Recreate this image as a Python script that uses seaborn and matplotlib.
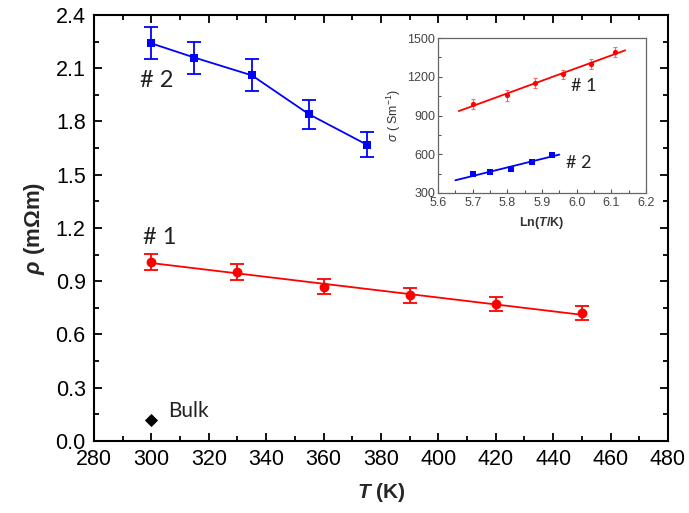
import numpy as np
import pandas as pd
import matplotlib
matplotlib.use("Agg")
import matplotlib.pyplot as plt
import seaborn as sns
from matplotlib.ticker import MultipleLocator

# ---- data ----
T2 = [300, 315, 335, 355, 375]
rho2 = [2.24, 2.16, 2.06, 1.84, 1.67]
err2 = [0.09, 0.09, 0.09, 0.08, 0.07]

T1 = [300, 330, 360, 390, 420, 450]
rho1 = [1.01, 0.95, 0.87, 0.82, 0.77, 0.72]
err1 = [0.045, 0.045, 0.04, 0.04, 0.04, 0.04]

T_bulk = [300]
rho_bulk = [0.12]

# inset: conductivity vs ln(T)
lnT1 = [5.70, 5.80, 5.88, 5.96, 6.04, 6.11]
sig1 = [990, 1055, 1150, 1220, 1300, 1390]
sigerr1 = [40, 40, 40, 35, 40, 40]
lnT2 = [5.70, 5.75, 5.81, 5.87, 5.93]
sig2 = [445, 462, 485, 540, 597]
sigerr2 = [12, 12, 12, 12, 12]
fit1_range = [5.66, 6.14]
fit2_range = [5.65, 5.95]

sns.set_theme(style="ticks")
plt.rcParams['font.family'] = ['Liberation Sans', 'DejaVu Sans']
plt.rcParams['mathtext.fontset'] = 'custom'
plt.rcParams['mathtext.rm'] = 'Liberation Sans'
plt.rcParams['mathtext.it'] = 'Liberation Sans:italic'
plt.rcParams['mathtext.bf'] = 'Liberation Sans:bold'
plt.rcParams['mathtext.bfit'] = 'Liberation Sans:bold:italic'

fig = plt.figure(figsize=(6.89, 5.13), dpi=100)
ax = fig.add_axes([0.1364, 0.1404, 0.833, 0.8304])

blue = '#0000ff'
red = '#ff0000'

# sample #2
ax.errorbar(T2, rho2, yerr=err2, fmt='none', ecolor=blue, elinewidth=1.3,
            capsize=5, capthick=1.3, zorder=2)
sns.lineplot(x=T2, y=rho2, ax=ax, color=blue, lw=1.3, zorder=3)
sns.scatterplot(x=T2, y=rho2, ax=ax, color=blue, marker='s', s=40,
                edgecolor=blue, linewidth=0, zorder=4)

# sample #1 with linear fit
ax.errorbar(T1, rho1, yerr=err1, fmt='none', ecolor=red, elinewidth=1.3,
            capsize=5, capthick=1.3, zorder=2)
c1 = np.polyfit(T1, rho1, 1)
fx = np.array([T1[0], T1[-1]])
sns.lineplot(x=fx, y=np.polyval(c1, fx), ax=ax, color=red, lw=1.3, zorder=3)
sns.scatterplot(x=T1, y=rho1, ax=ax, color=red, marker='o', s=50,
                edgecolor=red, linewidth=0, zorder=4)

# bulk
sns.scatterplot(x=T_bulk, y=rho_bulk, ax=ax, color='black', marker='D', s=45,
                edgecolor='black', linewidth=0, zorder=4)
ax.text(306, 0.17, 'Bulk', fontsize=15, family=['Lato', 'DejaVu Sans'],
        color='#222222', va='center', ha='left')
ax.text(296, 2.03, '# 2', fontsize=17, family=['Lato', 'DejaVu Sans'],
        color='#222222', va='center', ha='left')
ax.text(297, 1.145, '# 1', fontsize=17, family=['Lato', 'DejaVu Sans'],
        color='#222222', va='center', ha='left')

ax.set_xlim(280, 480)
ax.set_ylim(0, 2.4)
ax.xaxis.set_major_locator(MultipleLocator(20))
ax.xaxis.set_minor_locator(MultipleLocator(10))
ax.yaxis.set_major_locator(MultipleLocator(0.3))
ax.yaxis.set_minor_locator(MultipleLocator(0.15))
ax.yaxis.set_major_formatter(matplotlib.ticker.FormatStrFormatter('%.1f'))
ax.tick_params(which='both', direction='in', top=True, right=True,
               labelsize=15.5, colors='black', width=1.3)
ax.tick_params(which='major', length=6, pad=6)
ax.tick_params(which='minor', length=3.5)
for s in ax.spines.values():
    s.set_linewidth(1.5)
    s.set_color('black')
ax.set_xlabel(r'$\mathbfit{T}$ (K)', fontsize=15, fontweight='bold', labelpad=8)
ax.set_ylabel(r'$\mathbfit{\rho}$ (m$\mathbf{\Omega}$m)', fontsize=16,
              fontweight='bold', labelpad=6)

# ---- inset ----
ins = fig.add_axes([0.6357, 0.6238, 0.3019, 0.3021])
ins.errorbar(lnT1, sig1, yerr=sigerr1, fmt='none', ecolor='#ff6666',
             elinewidth=0.8, capsize=1.5, capthick=0.8, zorder=2)
ins.errorbar(lnT2, sig2, yerr=sigerr2, fmt='none', ecolor='#6666ff',
             elinewidth=0.8, capsize=1.5, capthick=0.8, zorder=2)
p1 = np.polyfit(lnT1, sig1, 1)
p2 = np.polyfit(lnT2, sig2, 1)
x1 = np.array(fit1_range)
x2 = np.array(fit2_range)
sns.lineplot(x=x1, y=np.polyval(p1, x1), ax=ins, color=red, lw=1.3, zorder=3)
sns.lineplot(x=x2, y=np.polyval(p2, x2), ax=ins, color=blue, lw=1.3, zorder=3)
sns.scatterplot(x=lnT1, y=sig1, ax=ins, color=red, marker='o', s=14,
                linewidth=0, zorder=4)
sns.scatterplot(x=lnT2, y=sig2, ax=ins, color=blue, marker='s', s=14,
                linewidth=0, zorder=4)
ins.text(5.985, 1130, '# 1', fontsize=13, family=['Lato', 'DejaVu Sans'],
         color='#222222', va='center')
ins.text(5.97, 530, '# 2', fontsize=13, family=['Lato', 'DejaVu Sans'],
         color='#222222', va='center')
ins.set_xlim(5.6, 6.2)
ins.set_ylim(300, 1500)
ins.xaxis.set_major_locator(MultipleLocator(0.1))
ins.xaxis.set_minor_locator(MultipleLocator(0.05))
ins.yaxis.set_major_locator(MultipleLocator(300))
ins.yaxis.set_minor_locator(MultipleLocator(150))
ins.xaxis.set_major_formatter(matplotlib.ticker.FormatStrFormatter('%.1f'))
ins.tick_params(which='both', direction='in', labelsize=9,
                labelcolor='#444444', color='#555555', width=0.8)
ins.tick_params(axis='x', pad=3)
ins.tick_params(axis='y', pad=2)
ins.tick_params(which='major', length=3)
ins.tick_params(which='minor', length=2)
for s in ins.spines.values():
    s.set_linewidth(0.9)
    s.set_color('#666666')
ins.set_xlabel(r'Ln($\mathbfit{T}$/K)', fontsize=9, fontweight='bold',
               color='#333333', labelpad=4)
ins.set_ylabel(r'$\sigma$ ( Sm$^{-1}$)', fontsize=9, color='#333333',
               labelpad=3)

fig.savefig('out.png', dpi=100)
